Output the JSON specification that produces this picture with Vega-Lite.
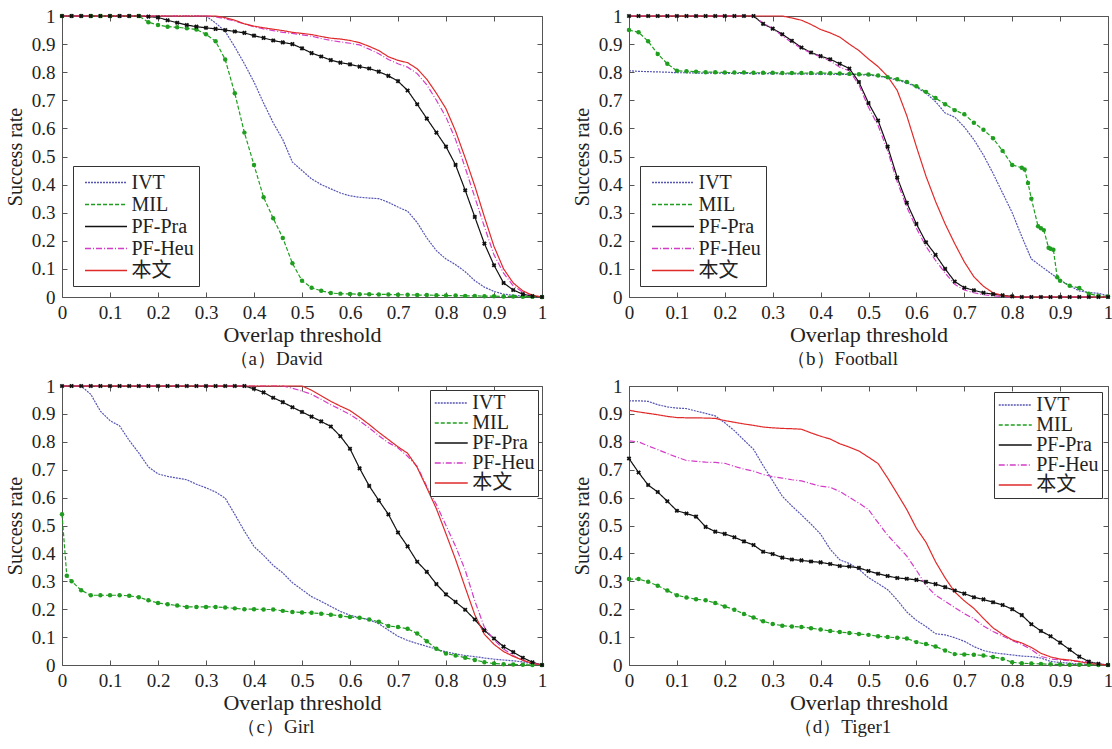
{
"$schema":"https://vega.github.io/schema/vega-lite/v6.json",
"background":"white",
"padding":{"left":4,"top":6,"right":0,"bottom":0},
"config":{
 "font":"Liberation Serif",
 "view":{"stroke":"#555","strokeWidth":1},
 "axis":{"domain":false,"grid":false,"ticks":true,"tickColor":"#555","tickSize":-5,"labelFont":"Liberation Serif","labelFontSize":19,"labelColor":"#222","titleFont":"Liberation Serif","titleFontWeight":"normal","titleColor":"#222","labelFlush":false,"labelOverlap":false},
 "axisX":{"labelPadding":11,"titlePadding":2,"titleFontSize":22},
 "axisY":{"labelPadding":12,"titlePadding":6,"titleFontSize":20},
 "legend":{"title":null,"strokeColor":"#333","fillColor":"white","labelFont":"Liberation Serif, Noto Sans CJK SC","labelFontSize":20,"labelColor":"#222","symbolType":"M-2,0H2","symbolStrokeWidth":1.3,"rowPadding":-3},
 "title":{"font":"Liberation Serif","fontSize":19,"fontWeight":"normal","color":"#222","frame":"bounds","anchor":"middle"}
},
"datasets":{"d":[
{"p":"a","x":0,"IVT":1,"MIL":1,"PF-Pra":1,"PF-Heu":1,"本文":1},
{"p":"a","x":0.02,"IVT":1,"MIL":1,"PF-Pra":1,"PF-Heu":1,"本文":1},
{"p":"a","x":0.04,"IVT":1,"MIL":1,"PF-Pra":1,"PF-Heu":1,"本文":1},
{"p":"a","x":0.06,"IVT":1,"MIL":1,"PF-Pra":1,"PF-Heu":1,"本文":1},
{"p":"a","x":0.08,"IVT":1,"MIL":1,"PF-Pra":1,"PF-Heu":1,"本文":1},
{"p":"a","x":0.1,"IVT":1,"MIL":1,"PF-Pra":1,"PF-Heu":1,"本文":1},
{"p":"a","x":0.12,"IVT":1,"MIL":1,"PF-Pra":1,"PF-Heu":1,"本文":1},
{"p":"a","x":0.14,"IVT":1,"MIL":1,"PF-Pra":1,"PF-Heu":1,"本文":1},
{"p":"a","x":0.16,"IVT":1,"MIL":1,"PF-Pra":1,"PF-Heu":1,"本文":1},
{"p":"a","x":0.18,"IVT":1,"MIL":0.978,"PF-Pra":0.998,"PF-Heu":1,"本文":1},
{"p":"a","x":0.2,"IVT":1,"MIL":0.968,"PF-Pra":0.995,"PF-Heu":1,"本文":1},
{"p":"a","x":0.22,"IVT":1,"MIL":0.962,"PF-Pra":0.985,"PF-Heu":1,"本文":1},
{"p":"a","x":0.24,"IVT":1,"MIL":0.96,"PF-Pra":0.976,"PF-Heu":1,"本文":1},
{"p":"a","x":0.26,"IVT":1,"MIL":0.956,"PF-Pra":0.968,"PF-Heu":1,"本文":1},
{"p":"a","x":0.28,"IVT":1,"MIL":0.952,"PF-Pra":0.962,"PF-Heu":1,"本文":1},
{"p":"a","x":0.3,"IVT":1,"MIL":0.935,"PF-Pra":0.958,"PF-Heu":1,"本文":1},
{"p":"a","x":0.32,"IVT":0.975,"MIL":0.91,"PF-Pra":0.954,"PF-Heu":0.997,"本文":1},
{"p":"a","x":0.34,"IVT":0.945,"MIL":0.845,"PF-Pra":0.95,"PF-Heu":0.99,"本文":0.994},
{"p":"a","x":0.36,"IVT":0.89,"MIL":0.725,"PF-Pra":0.945,"PF-Heu":0.982,"本文":0.985},
{"p":"a","x":0.38,"IVT":0.83,"MIL":0.585,"PF-Pra":0.94,"PF-Heu":0.972,"本文":0.972},
{"p":"a","x":0.4,"IVT":0.765,"MIL":0.47,"PF-Pra":0.93,"PF-Heu":0.962,"本文":0.964},
{"p":"a","x":0.42,"IVT":0.69,"MIL":0.355,"PF-Pra":0.922,"PF-Heu":0.954,"本文":0.958},
{"p":"a","x":0.44,"IVT":0.62,"MIL":0.28,"PF-Pra":0.913,"PF-Heu":0.948,"本文":0.953},
{"p":"a","x":0.46,"IVT":0.56,"MIL":0.21,"PF-Pra":0.906,"PF-Heu":0.942,"本文":0.948},
{"p":"a","x":0.48,"IVT":0.48,"MIL":0.12,"PF-Pra":0.9,"PF-Heu":0.938,"本文":0.942},
{"p":"a","x":0.5,"IVT":0.45,"MIL":0.058,"PF-Pra":0.885,"PF-Heu":0.933,"本文":0.938},
{"p":"a","x":0.52,"IVT":0.42,"MIL":0.033,"PF-Pra":0.868,"PF-Heu":0.928,"本文":0.934},
{"p":"a","x":0.54,"IVT":0.4,"MIL":0.022,"PF-Pra":0.856,"PF-Heu":0.92,"本文":0.927},
{"p":"a","x":0.56,"IVT":0.385,"MIL":0.014,"PF-Pra":0.843,"PF-Heu":0.913,"本文":0.921},
{"p":"a","x":0.58,"IVT":0.37,"MIL":0.012,"PF-Pra":0.834,"PF-Heu":0.908,"本文":0.918},
{"p":"a","x":0.6,"IVT":0.36,"MIL":0.011,"PF-Pra":0.828,"PF-Heu":0.903,"本文":0.913},
{"p":"a","x":0.62,"IVT":0.355,"MIL":0.01,"PF-Pra":0.82,"PF-Heu":0.897,"本文":0.905},
{"p":"a","x":0.64,"IVT":0.352,"MIL":0.01,"PF-Pra":0.813,"PF-Heu":0.882,"本文":0.892},
{"p":"a","x":0.66,"IVT":0.35,"MIL":0.009,"PF-Pra":0.802,"PF-Heu":0.866,"本文":0.877},
{"p":"a","x":0.68,"IVT":0.337,"MIL":0.009,"PF-Pra":0.787,"PF-Heu":0.845,"本文":0.855},
{"p":"a","x":0.7,"IVT":0.32,"MIL":0.008,"PF-Pra":0.768,"PF-Heu":0.83,"本文":0.842},
{"p":"a","x":0.72,"IVT":0.305,"MIL":0.008,"PF-Pra":0.735,"PF-Heu":0.818,"本文":0.834},
{"p":"a","x":0.74,"IVT":0.265,"MIL":0.007,"PF-Pra":0.686,"PF-Heu":0.795,"本文":0.812},
{"p":"a","x":0.76,"IVT":0.21,"MIL":0.007,"PF-Pra":0.635,"PF-Heu":0.755,"本文":0.775},
{"p":"a","x":0.78,"IVT":0.165,"MIL":0.006,"PF-Pra":0.585,"PF-Heu":0.7,"本文":0.725},
{"p":"a","x":0.8,"IVT":0.135,"MIL":0.005,"PF-Pra":0.535,"PF-Heu":0.64,"本文":0.67},
{"p":"a","x":0.82,"IVT":0.115,"MIL":0.005,"PF-Pra":0.47,"PF-Heu":0.56,"本文":0.59},
{"p":"a","x":0.84,"IVT":0.09,"MIL":0.004,"PF-Pra":0.38,"PF-Heu":0.46,"本文":0.495},
{"p":"a","x":0.86,"IVT":0.058,"MIL":0.004,"PF-Pra":0.285,"PF-Heu":0.355,"本文":0.395},
{"p":"a","x":0.88,"IVT":0.035,"MIL":0.003,"PF-Pra":0.19,"PF-Heu":0.25,"本文":0.285},
{"p":"a","x":0.9,"IVT":0.02,"MIL":0.003,"PF-Pra":0.113,"PF-Heu":0.15,"本文":0.18},
{"p":"a","x":0.92,"IVT":0.01,"MIL":0.002,"PF-Pra":0.05,"PF-Heu":0.085,"本文":0.1},
{"p":"a","x":0.94,"IVT":0.006,"MIL":0.002,"PF-Pra":0.025,"PF-Heu":0.04,"本文":0.05},
{"p":"a","x":0.96,"IVT":0.003,"MIL":0.001,"PF-Pra":0.01,"PF-Heu":0.017,"本文":0.022},
{"p":"a","x":0.98,"IVT":0.001,"MIL":0.001,"PF-Pra":0.003,"PF-Heu":0.005,"本文":0.006},
{"p":"a","x":1,"IVT":0,"MIL":0,"PF-Pra":0,"PF-Heu":0,"本文":0},
{"p":"b","x":0,"IVT":0.805,"MIL":0.95,"PF-Pra":1,"PF-Heu":1,"本文":1},
{"p":"b","x":0.02,"IVT":0.803,"MIL":0.942,"PF-Pra":1,"PF-Heu":1,"本文":1},
{"p":"b","x":0.04,"IVT":0.802,"MIL":0.91,"PF-Pra":1,"PF-Heu":1,"本文":1},
{"p":"b","x":0.06,"IVT":0.801,"MIL":0.865,"PF-Pra":1,"PF-Heu":1,"本文":1},
{"p":"b","x":0.08,"IVT":0.8,"MIL":0.83,"PF-Pra":1,"PF-Heu":1,"本文":1},
{"p":"b","x":0.1,"IVT":0.798,"MIL":0.805,"PF-Pra":1,"PF-Heu":1,"本文":1},
{"p":"b","x":0.12,"IVT":0.798,"MIL":0.803,"PF-Pra":1,"PF-Heu":1,"本文":1},
{"p":"b","x":0.14,"IVT":0.797,"MIL":0.802,"PF-Pra":1,"PF-Heu":1,"本文":1},
{"p":"b","x":0.16,"IVT":0.797,"MIL":0.8,"PF-Pra":1,"PF-Heu":1,"本文":1},
{"p":"b","x":0.18,"IVT":0.797,"MIL":0.8,"PF-Pra":1,"PF-Heu":1,"本文":1},
{"p":"b","x":0.2,"IVT":0.796,"MIL":0.799,"PF-Pra":1,"PF-Heu":1,"本文":1},
{"p":"b","x":0.22,"IVT":0.796,"MIL":0.799,"PF-Pra":1,"PF-Heu":1,"本文":1},
{"p":"b","x":0.24,"IVT":0.796,"MIL":0.799,"PF-Pra":1,"PF-Heu":1,"本文":1},
{"p":"b","x":0.26,"IVT":0.795,"MIL":0.798,"PF-Pra":1,"PF-Heu":1,"本文":1},
{"p":"b","x":0.28,"IVT":0.795,"MIL":0.798,"PF-Pra":0.972,"PF-Heu":0.975,"本文":1},
{"p":"b","x":0.3,"IVT":0.795,"MIL":0.798,"PF-Pra":0.955,"PF-Heu":0.955,"本文":1},
{"p":"b","x":0.32,"IVT":0.794,"MIL":0.797,"PF-Pra":0.935,"PF-Heu":0.93,"本文":1},
{"p":"b","x":0.34,"IVT":0.794,"MIL":0.797,"PF-Pra":0.912,"PF-Heu":0.905,"本文":0.993},
{"p":"b","x":0.36,"IVT":0.794,"MIL":0.797,"PF-Pra":0.888,"PF-Heu":0.885,"本文":0.985},
{"p":"b","x":0.38,"IVT":0.793,"MIL":0.797,"PF-Pra":0.87,"PF-Heu":0.868,"本文":0.97},
{"p":"b","x":0.4,"IVT":0.793,"MIL":0.797,"PF-Pra":0.857,"PF-Heu":0.855,"本文":0.952},
{"p":"b","x":0.42,"IVT":0.793,"MIL":0.796,"PF-Pra":0.846,"PF-Heu":0.84,"本文":0.94},
{"p":"b","x":0.44,"IVT":0.792,"MIL":0.795,"PF-Pra":0.83,"PF-Heu":0.818,"本文":0.925},
{"p":"b","x":0.46,"IVT":0.792,"MIL":0.794,"PF-Pra":0.813,"PF-Heu":0.805,"本文":0.9},
{"p":"b","x":0.48,"IVT":0.791,"MIL":0.793,"PF-Pra":0.765,"PF-Heu":0.755,"本文":0.877},
{"p":"b","x":0.5,"IVT":0.79,"MIL":0.792,"PF-Pra":0.69,"PF-Heu":0.675,"本文":0.847},
{"p":"b","x":0.52,"IVT":0.786,"MIL":0.788,"PF-Pra":0.628,"PF-Heu":0.61,"本文":0.82},
{"p":"b","x":0.54,"IVT":0.78,"MIL":0.782,"PF-Pra":0.535,"PF-Heu":0.52,"本文":0.785},
{"p":"b","x":0.56,"IVT":0.772,"MIL":0.775,"PF-Pra":0.425,"PF-Heu":0.41,"本文":0.735},
{"p":"b","x":0.58,"IVT":0.762,"MIL":0.765,"PF-Pra":0.335,"PF-Heu":0.32,"本文":0.645},
{"p":"b","x":0.6,"IVT":0.747,"MIL":0.75,"PF-Pra":0.26,"PF-Heu":0.245,"本文":0.535},
{"p":"b","x":0.62,"IVT":0.725,"MIL":0.73,"PF-Pra":0.195,"PF-Heu":0.18,"本文":0.43},
{"p":"b","x":0.64,"IVT":0.695,"MIL":0.708,"PF-Pra":0.15,"PF-Heu":0.13,"本文":0.34},
{"p":"b","x":0.66,"IVT":0.655,"MIL":0.686,"PF-Pra":0.1,"PF-Heu":0.085,"本文":0.26},
{"p":"b","x":0.68,"IVT":0.64,"MIL":0.665,"PF-Pra":0.055,"PF-Heu":0.045,"本文":0.19},
{"p":"b","x":0.7,"IVT":0.605,"MIL":0.65,"PF-Pra":0.033,"PF-Heu":0.025,"本文":0.125},
{"p":"b","x":0.72,"IVT":0.56,"MIL":0.62,"PF-Pra":0.024,"PF-Heu":0.015,"本文":0.072},
{"p":"b","x":0.74,"IVT":0.505,"MIL":0.595,"PF-Pra":0.015,"PF-Heu":0.008,"本文":0.038},
{"p":"b","x":0.76,"IVT":0.44,"MIL":0.565,"PF-Pra":0.01,"PF-Heu":0.004,"本文":0.015},
{"p":"b","x":0.78,"IVT":0.37,"MIL":0.52,"PF-Pra":0.006,"PF-Heu":0.002,"本文":0.005},
{"p":"b","x":0.8,"IVT":0.3,"MIL":0.47,"PF-Pra":0.002,"PF-Heu":0,"本文":0.001},
{"p":"b","x":0.82,"IVT":0.215,"MIL":0.46,"PF-Pra":0,"PF-Heu":0,"本文":0},
{"p":"b","x":0.826,"MIL":0.454},
{"p":"b","x":0.833,"MIL":0.406},
{"p":"b","x":0.84,"IVT":0.135,"MIL":0.35,"PF-Pra":0,"PF-Heu":0,"本文":0},
{"p":"b","x":0.854,"MIL":0.252},
{"p":"b","x":0.86,"IVT":0.11,"MIL":0.245,"PF-Pra":0,"PF-Heu":0,"本文":0},
{"p":"b","x":0.866,"MIL":0.238},
{"p":"b","x":0.876,"MIL":0.175},
{"p":"b","x":0.88,"IVT":0.085,"MIL":0.172,"PF-Pra":0,"PF-Heu":0,"本文":0},
{"p":"b","x":0.886,"MIL":0.168},
{"p":"b","x":0.894,"MIL":0.07},
{"p":"b","x":0.9,"IVT":0.06,"MIL":0.058,"PF-Pra":0,"PF-Heu":0,"本文":0},
{"p":"b","x":0.92,"IVT":0.04,"MIL":0.04,"PF-Pra":0,"PF-Heu":0,"本文":0},
{"p":"b","x":0.94,"IVT":0.022,"MIL":0.032,"PF-Pra":0,"PF-Heu":0,"本文":0},
{"p":"b","x":0.96,"IVT":0.016,"MIL":0.012,"PF-Pra":0,"PF-Heu":0,"本文":0},
{"p":"b","x":0.98,"IVT":0.013,"MIL":0.004,"PF-Pra":0,"PF-Heu":0,"本文":0},
{"p":"b","x":1,"IVT":0.005,"MIL":0.002,"PF-Pra":0,"PF-Heu":0,"本文":0},
{"p":"c","x":0,"IVT":1,"MIL":0.54,"PF-Pra":1,"PF-Heu":1,"本文":1},
{"p":"c","x":0.01,"MIL":0.32},
{"p":"c","x":0.02,"IVT":1,"MIL":0.3,"PF-Pra":1,"PF-Heu":1,"本文":1},
{"p":"c","x":0.04,"IVT":1,"MIL":0.268,"PF-Pra":1,"PF-Heu":1,"本文":1},
{"p":"c","x":0.06,"IVT":0.97,"MIL":0.25,"PF-Pra":1,"PF-Heu":1,"本文":1},
{"p":"c","x":0.08,"IVT":0.91,"MIL":0.25,"PF-Pra":1,"PF-Heu":1,"本文":1},
{"p":"c","x":0.1,"IVT":0.876,"MIL":0.25,"PF-Pra":1,"PF-Heu":1,"本文":1},
{"p":"c","x":0.12,"IVT":0.857,"MIL":0.25,"PF-Pra":1,"PF-Heu":1,"本文":1},
{"p":"c","x":0.14,"IVT":0.805,"MIL":0.248,"PF-Pra":1,"PF-Heu":1,"本文":1},
{"p":"c","x":0.16,"IVT":0.76,"MIL":0.243,"PF-Pra":1,"PF-Heu":1,"本文":1},
{"p":"c","x":0.18,"IVT":0.71,"MIL":0.232,"PF-Pra":1,"PF-Heu":1,"本文":1},
{"p":"c","x":0.2,"IVT":0.685,"MIL":0.222,"PF-Pra":1,"PF-Heu":1,"本文":1},
{"p":"c","x":0.22,"IVT":0.676,"MIL":0.218,"PF-Pra":1,"PF-Heu":1,"本文":1},
{"p":"c","x":0.24,"IVT":0.67,"MIL":0.213,"PF-Pra":1,"PF-Heu":1,"本文":1},
{"p":"c","x":0.26,"IVT":0.664,"MIL":0.208,"PF-Pra":1,"PF-Heu":1,"本文":1},
{"p":"c","x":0.28,"IVT":0.648,"MIL":0.208,"PF-Pra":1,"PF-Heu":1,"本文":1},
{"p":"c","x":0.3,"IVT":0.635,"MIL":0.208,"PF-Pra":1,"PF-Heu":1,"本文":1},
{"p":"c","x":0.32,"IVT":0.62,"MIL":0.208,"PF-Pra":1,"PF-Heu":1,"本文":1},
{"p":"c","x":0.34,"IVT":0.598,"MIL":0.206,"PF-Pra":1,"PF-Heu":1,"本文":1},
{"p":"c","x":0.36,"IVT":0.54,"MIL":0.203,"PF-Pra":1,"PF-Heu":1,"本文":1},
{"p":"c","x":0.38,"IVT":0.48,"MIL":0.2,"PF-Pra":1,"PF-Heu":1,"本文":1},
{"p":"c","x":0.4,"IVT":0.425,"MIL":0.2,"PF-Pra":0.99,"PF-Heu":1,"本文":1},
{"p":"c","x":0.42,"IVT":0.393,"MIL":0.199,"PF-Pra":0.977,"PF-Heu":1,"本文":1},
{"p":"c","x":0.44,"IVT":0.357,"MIL":0.199,"PF-Pra":0.958,"PF-Heu":1,"本文":1},
{"p":"c","x":0.46,"IVT":0.33,"MIL":0.194,"PF-Pra":0.942,"PF-Heu":1,"本文":1},
{"p":"c","x":0.48,"IVT":0.295,"MIL":0.19,"PF-Pra":0.924,"PF-Heu":0.992,"本文":1},
{"p":"c","x":0.5,"IVT":0.27,"MIL":0.188,"PF-Pra":0.907,"PF-Heu":0.982,"本文":1},
{"p":"c","x":0.52,"IVT":0.245,"MIL":0.187,"PF-Pra":0.89,"PF-Heu":0.97,"本文":0.985},
{"p":"c","x":0.54,"IVT":0.228,"MIL":0.184,"PF-Pra":0.873,"PF-Heu":0.952,"本文":0.965},
{"p":"c","x":0.56,"IVT":0.21,"MIL":0.18,"PF-Pra":0.855,"PF-Heu":0.933,"本文":0.945},
{"p":"c","x":0.58,"IVT":0.192,"MIL":0.176,"PF-Pra":0.82,"PF-Heu":0.916,"本文":0.928},
{"p":"c","x":0.6,"IVT":0.178,"MIL":0.172,"PF-Pra":0.775,"PF-Heu":0.898,"本文":0.912},
{"p":"c","x":0.62,"IVT":0.17,"MIL":0.169,"PF-Pra":0.705,"PF-Heu":0.875,"本文":0.888},
{"p":"c","x":0.64,"IVT":0.162,"MIL":0.163,"PF-Pra":0.642,"PF-Heu":0.85,"本文":0.862},
{"p":"c","x":0.66,"IVT":0.148,"MIL":0.155,"PF-Pra":0.59,"PF-Heu":0.822,"本文":0.834},
{"p":"c","x":0.68,"IVT":0.125,"MIL":0.14,"PF-Pra":0.54,"PF-Heu":0.797,"本文":0.808},
{"p":"c","x":0.7,"IVT":0.103,"MIL":0.136,"PF-Pra":0.475,"PF-Heu":0.778,"本文":0.782},
{"p":"c","x":0.72,"IVT":0.088,"MIL":0.13,"PF-Pra":0.425,"PF-Heu":0.748,"本文":0.759},
{"p":"c","x":0.74,"IVT":0.077,"MIL":0.113,"PF-Pra":0.37,"PF-Heu":0.712,"本文":0.708},
{"p":"c","x":0.76,"IVT":0.067,"MIL":0.085,"PF-Pra":0.334,"PF-Heu":0.64,"本文":0.635},
{"p":"c","x":0.78,"IVT":0.057,"MIL":0.058,"PF-Pra":0.29,"PF-Heu":0.575,"本文":0.56},
{"p":"c","x":0.8,"IVT":0.047,"MIL":0.041,"PF-Pra":0.253,"PF-Heu":0.5,"本文":0.47},
{"p":"c","x":0.82,"IVT":0.04,"MIL":0.034,"PF-Pra":0.226,"PF-Heu":0.425,"本文":0.378},
{"p":"c","x":0.84,"IVT":0.034,"MIL":0.026,"PF-Pra":0.198,"PF-Heu":0.34,"本文":0.278},
{"p":"c","x":0.86,"IVT":0.03,"MIL":0.018,"PF-Pra":0.163,"PF-Heu":0.23,"本文":0.18},
{"p":"c","x":0.88,"IVT":0.025,"MIL":0.01,"PF-Pra":0.124,"PF-Heu":0.135,"本文":0.11},
{"p":"c","x":0.9,"IVT":0.021,"MIL":0.005,"PF-Pra":0.095,"PF-Heu":0.09,"本文":0.074},
{"p":"c","x":0.92,"IVT":0.018,"MIL":0.003,"PF-Pra":0.066,"PF-Heu":0.057,"本文":0.048},
{"p":"c","x":0.94,"IVT":0.015,"MIL":0.002,"PF-Pra":0.046,"PF-Heu":0.034,"本文":0.031},
{"p":"c","x":0.96,"IVT":0.011,"MIL":0.001,"PF-Pra":0.026,"PF-Heu":0.016,"本文":0.017},
{"p":"c","x":0.98,"IVT":0.005,"MIL":0,"PF-Pra":0.01,"PF-Heu":0.006,"本文":0.006},
{"p":"c","x":1,"IVT":0,"MIL":0,"PF-Pra":0,"PF-Heu":0,"本文":0},
{"p":"d","x":0,"IVT":0.947,"MIL":0.308,"PF-Pra":0.74,"PF-Heu":0.803,"本文":0.913},
{"p":"d","x":0.02,"IVT":0.947,"MIL":0.308,"PF-Pra":0.69,"PF-Heu":0.8,"本文":0.907},
{"p":"d","x":0.04,"IVT":0.945,"MIL":0.298,"PF-Pra":0.645,"PF-Heu":0.785,"本文":0.902},
{"p":"d","x":0.06,"IVT":0.933,"MIL":0.284,"PF-Pra":0.62,"PF-Heu":0.772,"本文":0.897},
{"p":"d","x":0.08,"IVT":0.925,"MIL":0.267,"PF-Pra":0.587,"PF-Heu":0.758,"本文":0.891},
{"p":"d","x":0.1,"IVT":0.921,"MIL":0.25,"PF-Pra":0.553,"PF-Heu":0.745,"本文":0.887},
{"p":"d","x":0.12,"IVT":0.919,"MIL":0.242,"PF-Pra":0.543,"PF-Heu":0.733,"本文":0.886},
{"p":"d","x":0.14,"IVT":0.91,"MIL":0.236,"PF-Pra":0.532,"PF-Heu":0.73,"本文":0.886},
{"p":"d","x":0.16,"IVT":0.902,"MIL":0.232,"PF-Pra":0.495,"PF-Heu":0.727,"本文":0.885},
{"p":"d","x":0.18,"IVT":0.893,"MIL":0.222,"PF-Pra":0.478,"PF-Heu":0.726,"本文":0.884},
{"p":"d","x":0.2,"IVT":0.868,"MIL":0.21,"PF-Pra":0.47,"PF-Heu":0.723,"本文":0.876},
{"p":"d","x":0.22,"IVT":0.84,"MIL":0.198,"PF-Pra":0.458,"PF-Heu":0.712,"本文":0.87},
{"p":"d","x":0.24,"IVT":0.806,"MIL":0.183,"PF-Pra":0.443,"PF-Heu":0.702,"本文":0.864},
{"p":"d","x":0.26,"IVT":0.773,"MIL":0.17,"PF-Pra":0.43,"PF-Heu":0.695,"本文":0.859},
{"p":"d","x":0.28,"IVT":0.715,"MIL":0.157,"PF-Pra":0.406,"PF-Heu":0.683,"本文":0.853},
{"p":"d","x":0.3,"IVT":0.66,"MIL":0.147,"PF-Pra":0.398,"PF-Heu":0.675,"本文":0.85},
{"p":"d","x":0.32,"IVT":0.605,"MIL":0.141,"PF-Pra":0.385,"PF-Heu":0.67,"本文":0.848},
{"p":"d","x":0.34,"IVT":0.57,"MIL":0.138,"PF-Pra":0.378,"PF-Heu":0.664,"本文":0.847},
{"p":"d","x":0.36,"IVT":0.538,"MIL":0.136,"PF-Pra":0.375,"PF-Heu":0.66,"本文":0.845},
{"p":"d","x":0.38,"IVT":0.505,"MIL":0.132,"PF-Pra":0.371,"PF-Heu":0.65,"本文":0.832},
{"p":"d","x":0.4,"IVT":0.469,"MIL":0.127,"PF-Pra":0.368,"PF-Heu":0.641,"本文":0.82},
{"p":"d","x":0.42,"IVT":0.415,"MIL":0.122,"PF-Pra":0.362,"PF-Heu":0.637,"本文":0.81},
{"p":"d","x":0.44,"IVT":0.377,"MIL":0.118,"PF-Pra":0.355,"PF-Heu":0.622,"本文":0.793},
{"p":"d","x":0.46,"IVT":0.364,"MIL":0.115,"PF-Pra":0.353,"PF-Heu":0.601,"本文":0.781},
{"p":"d","x":0.48,"IVT":0.343,"MIL":0.111,"PF-Pra":0.348,"PF-Heu":0.58,"本文":0.767},
{"p":"d","x":0.5,"IVT":0.313,"MIL":0.108,"PF-Pra":0.337,"PF-Heu":0.557,"本文":0.745},
{"p":"d","x":0.52,"IVT":0.292,"MIL":0.103,"PF-Pra":0.327,"PF-Heu":0.51,"本文":0.722},
{"p":"d","x":0.54,"IVT":0.27,"MIL":0.1,"PF-Pra":0.319,"PF-Heu":0.465,"本文":0.67},
{"p":"d","x":0.56,"IVT":0.233,"MIL":0.098,"PF-Pra":0.312,"PF-Heu":0.428,"本文":0.614},
{"p":"d","x":0.58,"IVT":0.19,"MIL":0.095,"PF-Pra":0.309,"PF-Heu":0.39,"本文":0.557},
{"p":"d","x":0.6,"IVT":0.16,"MIL":0.082,"PF-Pra":0.305,"PF-Heu":0.34,"本文":0.49},
{"p":"d","x":0.62,"IVT":0.138,"MIL":0.075,"PF-Pra":0.298,"PF-Heu":0.285,"本文":0.44},
{"p":"d","x":0.64,"IVT":0.112,"MIL":0.066,"PF-Pra":0.29,"PF-Heu":0.25,"本文":0.37},
{"p":"d","x":0.66,"IVT":0.108,"MIL":0.052,"PF-Pra":0.279,"PF-Heu":0.228,"本文":0.312},
{"p":"d","x":0.68,"IVT":0.098,"MIL":0.039,"PF-Pra":0.267,"PF-Heu":0.206,"本文":0.262},
{"p":"d","x":0.7,"IVT":0.085,"MIL":0.038,"PF-Pra":0.256,"PF-Heu":0.184,"本文":0.23},
{"p":"d","x":0.72,"IVT":0.066,"MIL":0.037,"PF-Pra":0.243,"PF-Heu":0.166,"本文":0.203},
{"p":"d","x":0.74,"IVT":0.052,"MIL":0.034,"PF-Pra":0.235,"PF-Heu":0.14,"本文":0.167},
{"p":"d","x":0.76,"IVT":0.044,"MIL":0.029,"PF-Pra":0.225,"PF-Heu":0.12,"本文":0.133},
{"p":"d","x":0.78,"IVT":0.04,"MIL":0.022,"PF-Pra":0.215,"PF-Heu":0.104,"本文":0.11},
{"p":"d","x":0.8,"IVT":0.036,"MIL":0.01,"PF-Pra":0.2,"PF-Heu":0.088,"本文":0.09},
{"p":"d","x":0.82,"IVT":0.032,"MIL":0.006,"PF-Pra":0.179,"PF-Heu":0.074,"本文":0.079},
{"p":"d","x":0.84,"IVT":0.03,"MIL":0.005,"PF-Pra":0.146,"PF-Heu":0.055,"本文":0.063},
{"p":"d","x":0.86,"IVT":0.025,"MIL":0.004,"PF-Pra":0.122,"PF-Heu":0.031,"本文":0.042},
{"p":"d","x":0.88,"IVT":0.013,"MIL":0.003,"PF-Pra":0.103,"PF-Heu":0.022,"本文":0.029},
{"p":"d","x":0.9,"IVT":0.009,"MIL":0.002,"PF-Pra":0.08,"PF-Heu":0.018,"本文":0.021},
{"p":"d","x":0.92,"IVT":0.006,"MIL":0.001,"PF-Pra":0.055,"PF-Heu":0.015,"本文":0.018},
{"p":"d","x":0.94,"IVT":0.004,"MIL":0.001,"PF-Pra":0.03,"PF-Heu":0.013,"本文":0.012},
{"p":"d","x":0.96,"IVT":0.003,"MIL":0.001,"PF-Pra":0.012,"PF-Heu":0.011,"本文":0.006},
{"p":"d","x":0.98,"IVT":0.001,"MIL":0,"PF-Pra":0.004,"PF-Heu":0.005,"本文":0.002},
{"p":"d","x":1,"IVT":0,"MIL":0,"PF-Pra":0,"PF-Heu":0,"本文":0}
]},
"vconcat":[
 {"hconcat":[
  {"width":480,"height":281,
   "title":{"text":"（a）David","orient":"bottom","offset":5},
   "data":{"name":"d"},
   "transform":[{"filter":"datum.p=='a'"},{"fold":["IVT","MIL","PF-Pra","PF-Heu","本文"],"as":["s","v"]},{"filter":"isValid(datum.v)"}],
   "layer":[
    {"mark":{"type":"line","strokeWidth":1.2},
     "encoding":{
      "x":{"field":"x","type":"quantitative","scale":{"domain":[0,1],"nice":false},"axis":{"orient":"bottom","title":"Overlap threshold","values":[0,0.1,0.2,0.3,0.4,0.5,0.6,0.7,0.8,0.9,1],"format":"~g"}},
      "y":{"field":"v","type":"quantitative","scale":{"domain":[0,1],"nice":false},"axis":{"orient":"left","title":"Success rate","values":[0,0.1,0.2,0.3,0.4,0.5,0.6,0.7,0.8,0.9,1],"format":"~g"}},
      "color":{"field":"s","type":"nominal","scale":{"domain":["IVT","MIL","PF-Pra","PF-Heu","本文"],"range":["#5656b4","#1f9e1f","#111111","#d43cc8","#e02a2a"]},"legend":{"orient":"bottom-left","offset":11,"padding":5,"symbolSize":441,"symbolOffset":16.5,"labelOffset":14}},
      "strokeDash":{"field":"s","type":"nominal","scale":{"domain":["IVT","MIL","PF-Pra","PF-Heu","本文"],"range":[[2,1],[4,2],[1,0],[6,2,1,2],[1,0]]},"legend":{"orient":"bottom-left","offset":11,"padding":5,"symbolSize":441,"symbolOffset":16.5,"labelOffset":14}}
     }},
    {"transform":[{"filter":"datum.s=='MIL'"}],"mark":{"type":"point","shape":"circle","filled":true,"color":"#1f9e1f","size":20,"opacity":1},
     "encoding":{"x":{"field":"x","type":"quantitative","axis":null},"y":{"field":"v","type":"quantitative","axis":null}}},
    {"transform":[{"filter":"datum.s=='PF-Pra'"}],"mark":{"type":"point","shape":"cross","angle":45,"filled":true,"color":"#111111","size":22,"opacity":1},
     "encoding":{"x":{"field":"x","type":"quantitative","axis":null},"y":{"field":"v","type":"quantitative","axis":null}}},
    {"mark":{"type":"point","opacity":0,"size":1},
     "encoding":{"x":{"field":"x","type":"quantitative","axis":{"orient":"top","labels":false,"title":null,"values":[0,0.1,0.2,0.3,0.4,0.5,0.6,0.7,0.8,0.9,1]}},"y":{"field":"v","type":"quantitative","axis":{"orient":"right","labels":false,"title":null,"values":[0,0.1,0.2,0.3,0.4,0.5,0.6,0.7,0.8,0.9,1]}}}}
   ],
   "resolve":{"axis":{"x":"independent","y":"independent"}}
  },
  {"width":479,"height":281,
   "title":{"text":"（b）Football","orient":"bottom","offset":5},
   "data":{"name":"d"},
   "transform":[{"filter":"datum.p=='b'"},{"fold":["IVT","MIL","PF-Pra","PF-Heu","本文"],"as":["s","v"]},{"filter":"isValid(datum.v)"}],
   "layer":[
    {"mark":{"type":"line","strokeWidth":1.2},
     "encoding":{
      "x":{"field":"x","type":"quantitative","scale":{"domain":[0,1],"nice":false},"axis":{"orient":"bottom","title":"Overlap threshold","values":[0,0.1,0.2,0.3,0.4,0.5,0.6,0.7,0.8,0.9,1],"format":"~g"}},
      "y":{"field":"v","type":"quantitative","scale":{"domain":[0,1],"nice":false},"axis":{"orient":"left","title":"Success rate","values":[0,0.1,0.2,0.3,0.4,0.5,0.6,0.7,0.8,0.9,1],"format":"~g"}},
      "color":{"field":"s","type":"nominal","scale":{"domain":["IVT","MIL","PF-Pra","PF-Heu","本文"],"range":["#5656b4","#1f9e1f","#111111","#d43cc8","#e02a2a"]},"legend":{"orient":"bottom-left","offset":11,"padding":5,"symbolSize":441,"symbolOffset":16.5,"labelOffset":14}},
      "strokeDash":{"field":"s","type":"nominal","scale":{"domain":["IVT","MIL","PF-Pra","PF-Heu","本文"],"range":[[2,1],[4,2],[1,0],[6,2,1,2],[1,0]]},"legend":{"orient":"bottom-left","offset":11,"padding":5,"symbolSize":441,"symbolOffset":16.5,"labelOffset":14}}
     }},
    {"transform":[{"filter":"datum.s=='MIL'"}],"mark":{"type":"point","shape":"circle","filled":true,"color":"#1f9e1f","size":20,"opacity":1},
     "encoding":{"x":{"field":"x","type":"quantitative","axis":null},"y":{"field":"v","type":"quantitative","axis":null}}},
    {"transform":[{"filter":"datum.s=='PF-Pra'"}],"mark":{"type":"point","shape":"cross","angle":45,"filled":true,"color":"#111111","size":22,"opacity":1},
     "encoding":{"x":{"field":"x","type":"quantitative","axis":null},"y":{"field":"v","type":"quantitative","axis":null}}},
    {"mark":{"type":"point","opacity":0,"size":1},
     "encoding":{"x":{"field":"x","type":"quantitative","axis":{"orient":"top","labels":false,"title":null,"values":[0,0.1,0.2,0.3,0.4,0.5,0.6,0.7,0.8,0.9,1]}},"y":{"field":"v","type":"quantitative","axis":{"orient":"right","labels":false,"title":null,"values":[0,0.1,0.2,0.3,0.4,0.5,0.6,0.7,0.8,0.9,1]}}}}
   ],
   "resolve":{"axis":{"x":"independent","y":"independent"}}
  }
 ],"spacing":23,"resolve":{"scale":{"color":"independent","strokeDash":"independent"},"legend":{"color":"independent","strokeDash":"independent"}}},
 {"hconcat":[
  {"width":480,"height":279,
   "title":{"text":"（c）Girl","orient":"bottom","offset":5},
   "data":{"name":"d"},
   "transform":[{"filter":"datum.p=='c'"},{"fold":["IVT","MIL","PF-Pra","PF-Heu","本文"],"as":["s","v"]},{"filter":"isValid(datum.v)"}],
   "layer":[
    {"mark":{"type":"line","strokeWidth":1.2},
     "encoding":{
      "x":{"field":"x","type":"quantitative","scale":{"domain":[0,1],"nice":false},"axis":{"orient":"bottom","title":"Overlap threshold","values":[0,0.1,0.2,0.3,0.4,0.5,0.6,0.7,0.8,0.9,1],"format":"~g"}},
      "y":{"field":"v","type":"quantitative","scale":{"domain":[0,1],"nice":false},"axis":{"orient":"left","title":"Success rate","values":[0,0.1,0.2,0.3,0.4,0.5,0.6,0.7,0.8,0.9,1],"format":"~g"}},
      "color":{"field":"s","type":"nominal","scale":{"domain":["IVT","MIL","PF-Pra","PF-Heu","本文"],"range":["#5656b4","#1f9e1f","#111111","#d43cc8","#e02a2a"]},"legend":{"orient":"top-right","offset":4,"padding":3,"symbolSize":272,"symbolOffset":8.25,"labelOffset":11}},
      "strokeDash":{"field":"s","type":"nominal","scale":{"domain":["IVT","MIL","PF-Pra","PF-Heu","本文"],"range":[[2,1],[4,2],[1,0],[6,2,1,2],[1,0]]},"legend":{"orient":"top-right","offset":4,"padding":3,"symbolSize":272,"symbolOffset":8.25,"labelOffset":11}}
     }},
    {"transform":[{"filter":"datum.s=='MIL'"}],"mark":{"type":"point","shape":"circle","filled":true,"color":"#1f9e1f","size":20,"opacity":1},
     "encoding":{"x":{"field":"x","type":"quantitative","axis":null},"y":{"field":"v","type":"quantitative","axis":null}}},
    {"transform":[{"filter":"datum.s=='PF-Pra'"}],"mark":{"type":"point","shape":"cross","angle":45,"filled":true,"color":"#111111","size":22,"opacity":1},
     "encoding":{"x":{"field":"x","type":"quantitative","axis":null},"y":{"field":"v","type":"quantitative","axis":null}}},
    {"mark":{"type":"point","opacity":0,"size":1},
     "encoding":{"x":{"field":"x","type":"quantitative","axis":{"orient":"top","labels":false,"title":null,"values":[0,0.1,0.2,0.3,0.4,0.5,0.6,0.7,0.8,0.9,1]}},"y":{"field":"v","type":"quantitative","axis":{"orient":"right","labels":false,"title":null,"values":[0,0.1,0.2,0.3,0.4,0.5,0.6,0.7,0.8,0.9,1]}}}}
   ],
   "resolve":{"axis":{"x":"independent","y":"independent"}}
  },
  {"width":479,"height":279,
   "title":{"text":"（d）Tiger1","orient":"bottom","offset":5},
   "data":{"name":"d"},
   "transform":[{"filter":"datum.p=='d'"},{"fold":["IVT","MIL","PF-Pra","PF-Heu","本文"],"as":["s","v"]},{"filter":"isValid(datum.v)"}],
   "layer":[
    {"mark":{"type":"line","strokeWidth":1.2},
     "encoding":{
      "x":{"field":"x","type":"quantitative","scale":{"domain":[0,1],"nice":false},"axis":{"orient":"bottom","title":"Overlap threshold","values":[0,0.1,0.2,0.3,0.4,0.5,0.6,0.7,0.8,0.9,1],"format":"~g"}},
      "y":{"field":"v","type":"quantitative","scale":{"domain":[0,1],"nice":false},"axis":{"orient":"left","title":"Success rate","values":[0,0.1,0.2,0.3,0.4,0.5,0.6,0.7,0.8,0.9,1],"format":"~g"}},
      "color":{"field":"s","type":"nominal","scale":{"domain":["IVT","MIL","PF-Pra","PF-Heu","本文"],"range":["#5656b4","#1f9e1f","#111111","#d43cc8","#e02a2a"]},"legend":{"orient":"top-right","offset":6,"padding":3,"symbolSize":272,"symbolOffset":8.25,"labelOffset":11}},
      "strokeDash":{"field":"s","type":"nominal","scale":{"domain":["IVT","MIL","PF-Pra","PF-Heu","本文"],"range":[[2,1],[4,2],[1,0],[6,2,1,2],[1,0]]},"legend":{"orient":"top-right","offset":6,"padding":3,"symbolSize":272,"symbolOffset":8.25,"labelOffset":11}}
     }},
    {"transform":[{"filter":"datum.s=='MIL'"}],"mark":{"type":"point","shape":"circle","filled":true,"color":"#1f9e1f","size":20,"opacity":1},
     "encoding":{"x":{"field":"x","type":"quantitative","axis":null},"y":{"field":"v","type":"quantitative","axis":null}}},
    {"transform":[{"filter":"datum.s=='PF-Pra'"}],"mark":{"type":"point","shape":"cross","angle":45,"filled":true,"color":"#111111","size":22,"opacity":1},
     "encoding":{"x":{"field":"x","type":"quantitative","axis":null},"y":{"field":"v","type":"quantitative","axis":null}}},
    {"mark":{"type":"point","opacity":0,"size":1},
     "encoding":{"x":{"field":"x","type":"quantitative","axis":{"orient":"top","labels":false,"title":null,"values":[0,0.1,0.2,0.3,0.4,0.5,0.6,0.7,0.8,0.9,1]}},"y":{"field":"v","type":"quantitative","axis":{"orient":"right","labels":false,"title":null,"values":[0,0.1,0.2,0.3,0.4,0.5,0.6,0.7,0.8,0.9,1]}}}}
   ],
   "resolve":{"axis":{"x":"independent","y":"independent"}}
  }
 ],"spacing":23,"resolve":{"scale":{"color":"independent","strokeDash":"independent"},"legend":{"color":"independent","strokeDash":"independent"}}}
],
"spacing":6,
"resolve":{"scale":{"color":"independent","strokeDash":"independent"},"legend":{"color":"independent","strokeDash":"independent"}}
}
